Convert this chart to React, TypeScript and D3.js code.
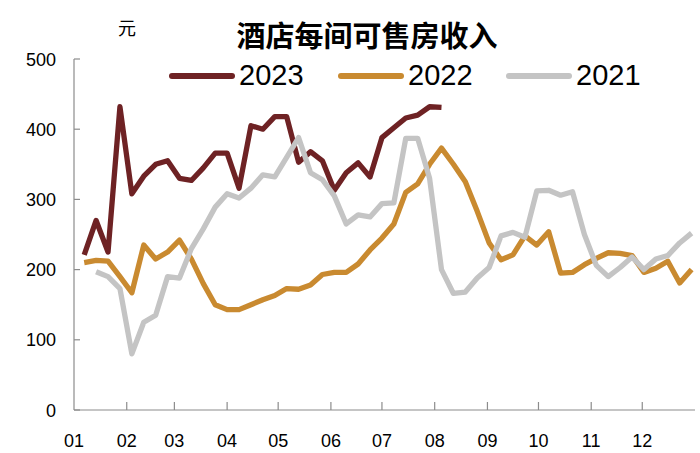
import React from "react";
import * as d3 from "d3";

const monthLabels = ["01","02","03","04","05","06","07","08","09","10","11","12"];
const yTicks = [0, 100, 200, 300, 400, 500];

// weekly values, week index 0 = first week of January
const v2023 = [221,270,225,432,308,333,350,355,330,327,345,366,366,316,405,400,418,418,353,368,355,313,338,352,332,388,402,416,420,432,431];
const v2022 = [210,213,212,190,167,235,215,225,242,215,180,150,143,143,150,157,163,173,172,178,193,196,196,208,228,245,265,310,322,350,373,350,325,283,238,214,221,248,235,254,195,196,207,216,224,223,220,196,202,212,181,200];
// 2021 starts at week index 1
const v2021 = [null,197,190,173,80,125,135,190,188,230,258,289,308,302,316,335,332,360,388,338,328,305,265,278,275,294,295,387,387,330,200,166,168,188,203,248,253,246,312,313,306,311,250,206,190,203,218,200,215,220,238,252];

const seriesList = [
  { name: "2023", values: v2023, color: "#6E2224" },
  { name: "2022", values: v2022, color: "#C98A30" },
  { name: "2021", values: v2021, color: "#C4C4C4" },
];

const W = 700, H = 453;
const yearStart = new Date(2023, 0, 1);
const yearEnd = new Date(2024, 0, 1);
const firstWeek = new Date(2023, 0, 7);

export default function App() {
  const x = d3.scaleTime().domain([yearStart, yearEnd]).range([74, 695]);
  const y = d3.scaleLinear().domain([0, 500]).range([410, 59]);
  const months = d3.timeMonth.range(yearStart, yearEnd);
  const font = "'Liberation Sans', Arial, sans-serif";
  const line = d3.line<any>()
    .defined((d) => d.v != null)
    .x((d) => x(d.date))
    .y((d) => y(d.v));

  const legendItems = [
    { name: "2023", color: seriesList[0].color, x0: 172 },
    { name: "2022", color: seriesList[1].color, x0: 341 },
    { name: "2021", color: seriesList[2].color, x0: 509 },
  ];

  return (
    <svg width={W} height={H} style={{ position: "absolute", left: 0, top: 0, background: "#fff" }}>
      <rect width={W} height={H} fill="#fff" />
      <text x={367} y={47} textAnchor="middle" fontFamily="'Noto Sans CJK SC', sans-serif" fontWeight="bold" fontSize={29} fill="#000">酒店每间可售房收入</text>
      <text x={127} y={35} textAnchor="middle" fontFamily="'Noto Sans CJK SC', sans-serif" fontSize={18} fill="#000">元</text>
      {/* axes */}
      <line x1={74} x2={74} y1={59} y2={410} stroke="#8c8c8c" strokeWidth={1.2} />
      <line x1={74} x2={695} y1={410} y2={410} stroke="#8c8c8c" strokeWidth={1.2} />
      {yTicks.map((t) => (
        <g key={t}>
          <line x1={74} x2={80} y1={y(t)} y2={y(t)} stroke="#8c8c8c" strokeWidth={1.2} />
          <text x={56} y={y(t) + 6.5} textAnchor="end" fontFamily={font} fontSize={18} fill="#000">{t}</text>
        </g>
      ))}
      {months.map((m, i) => (
        <g key={i}>
          {i > 0 && <line x1={x(m)} x2={x(m)} y1={410} y2={402} stroke="#8c8c8c" strokeWidth={1.2} />}
          <text x={x(m)} y={447} textAnchor="middle" fontFamily={font} fontSize={18} fill="#000">{monthLabels[i]}</text>
        </g>
      ))}
      {/* series */}
      {seriesList.map((s) => {
        const pts = s.values.map((v, i) => ({ v, date: d3.timeDay.offset(firstWeek, 7 * i) }));
        return (
          <path key={s.name} d={line(pts) || ""} fill="none" stroke={s.color} strokeWidth={5.3} strokeLinejoin="round" />
        );
      })}
      {/* legend */}
      {legendItems.map((l) => (
        <g key={l.name}>
          <line x1={l.x0} x2={l.x0 + 60} y1={76} y2={76} stroke={l.color} strokeWidth={6} strokeLinecap="round" />
          <text x={l.x0 + 67} y={85} fontFamily={font} fontSize={29} fill="#000">{l.name}</text>
        </g>
      ))}
    </svg>
  );
}
